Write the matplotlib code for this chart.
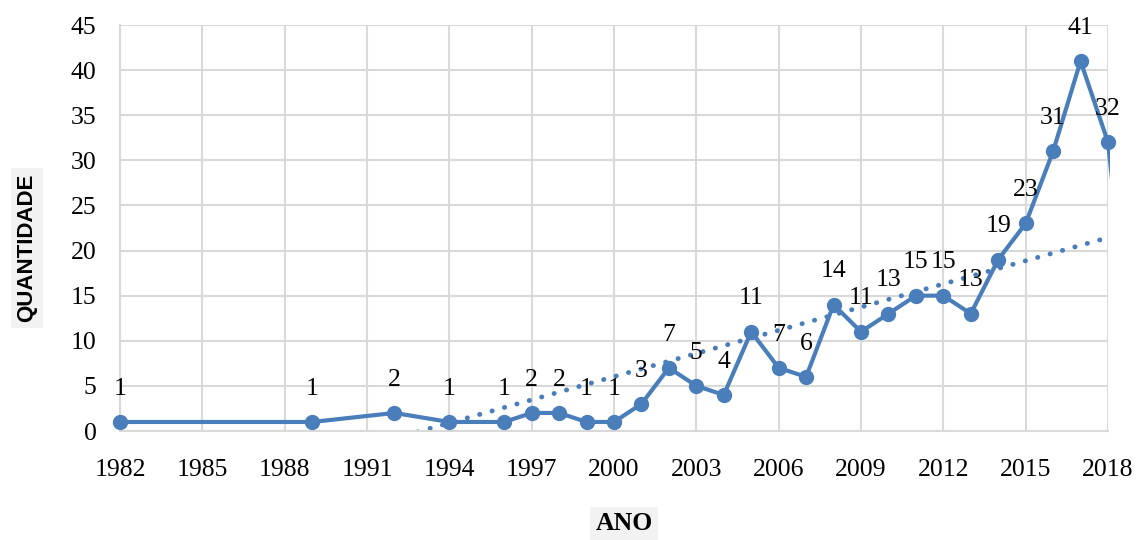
import matplotlib
matplotlib.use("Agg")
import matplotlib.pyplot as plt
from matplotlib.transforms import Bbox
import numpy as np

years = [1982, 1989, 1992, 1994, 1996, 1997, 1998, 1999, 2000, 2001, 2002, 2003,
         2004, 2005, 2006, 2007, 2008, 2009, 2010, 2011, 2012, 2013, 2014, 2015,
         2016, 2017, 2018, 2019]
values = [1, 1, 2, 1, 1, 2, 2, 1, 1, 3, 7, 5, 4, 11, 7, 6, 14, 11, 13, 15, 15, 13,
          19, 23, 31, 41, 32, 4]
x_ticks = list(range(1982, 2019, 3))
y_ticks = list(range(0, 46, 5))

blue = "#4A7EBB"
serif = "Liberation Serif"

W, H = 1137, 540
fig = plt.figure(figsize=(W / 100, H / 100), dpi=100)
ax = fig.add_axes([120 / W, 1 - 431 / H, 988 / W, 406 / H])

ax.set_xlim(1982, 2018)
ax.set_ylim(0, 45)
ax.set_xticks(x_ticks)
ax.set_yticks(y_ticks)
ax.grid(True, color="#D9D9D9", linewidth=1.5)
ax.set_axisbelow(True)
for s in ["top", "right"]:
    ax.spines[s].set_visible(False)
for s in ["left", "bottom"]:
    ax.spines[s].set_color("#D9D9D9")
    ax.spines[s].set_linewidth(1.5)
ax.tick_params(length=0, labelsize=18.5)
ax.tick_params(axis="x", pad=20)
ax.tick_params(axis="y", pad=17)
for lab in ax.get_xticklabels() + ax.get_yticklabels():
    lab.set_fontfamily(serif)

xa = np.array(years, dtype=float)
ya = np.array(values, dtype=float)

# linear trendline
k, b = np.polyfit(xa, ya, 1)
tx = np.array([1982, 2019], dtype=float)
ax.plot(tx, k * tx + b, color=blue, linewidth=3.5, linestyle=(0, (0.05, 2.6)),
        dash_capstyle="round", zorder=2)

clip = Bbox.from_extents(120, H - 431, 1110, H - 25)
line, = ax.plot(xa, ya, color=blue, linewidth=3, zorder=3)
line.set_clip_box(clip)
vis = xa <= 2018
ax.plot(xa[vis], ya[vis], linestyle="none", marker="o", markersize=10,
        color=blue, clip_on=False, zorder=4)

for x, v in zip(years, values):
    if x <= 2018:
        ax.annotate(str(v), (x, v), xytext=(0, 24), textcoords="offset points",
                    ha="center", va="center", fontsize=18.5, fontfamily=serif,
                    annotation_clip=False, zorder=5)

fig.text(27 / W, 1 - 248 / H, "QUANTIDADE", rotation=90, ha="center",
         va="center", fontsize=16, fontweight="bold", fontfamily="Liberation Sans",
         bbox=dict(facecolor="#F2F2F2", edgecolor="none", pad=4))
fig.text(624 / W, 1 - 524 / H, "ANO", ha="center", va="center",
         fontsize=18.5, fontweight="bold", fontfamily=serif,
         bbox=dict(facecolor="#F2F2F2", edgecolor="none", pad=4))

fig.savefig("out.png", dpi=100)
